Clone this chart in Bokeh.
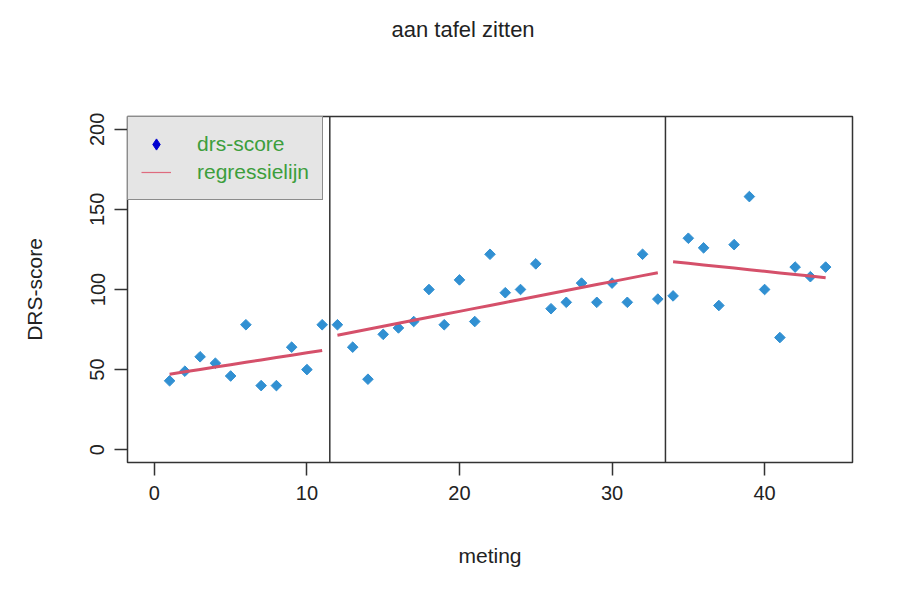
import numpy as np
from bokeh.plotting import figure
from bokeh.models import Range1d, FixedTicker, Span, Legend, LegendItem, Title
from bokeh.embed import file_html
from bokeh.resources import INLINE

# ---- data ----
meting = list(range(1, 45))
drs_score = [43, 49, 58, 54, 46, 78, 40, 40, 64, 50, 78,
             78, 64, 44, 72, 76, 80, 100, 78, 106, 80, 122, 98, 100, 116, 88, 92,
             104, 92, 104, 92, 122, 94,
             96, 132, 126, 90, 128, 158, 100, 70, 114, 108, 114]
phase_starts = [1, 12, 34]
phase_ends = [11, 33, 44]
phase_breaks = [11.5, 33.5]
x_ticks = [0, 10, 20, 30, 40]
y_ticks = [0, 50, 100, 150, 200]
x_limits = [0, 44]
y_limits = [0, 200]
title_text = "aan tafel zitten"
x_label = "meting"
y_label = "DRS-score"
legend_labels = ["drs-score", "regressielijn"]

FONT = "Liberation Sans"
POINT_COLOR = "#3190D2"
LINE_COLOR = "#D5506A"
TEXT_COLOR = "#222222"
FRAME_COLOR = "#333333"

# R-style 4% axis extension
def ext(lim):
    d = (lim[1] - lim[0]) * 0.04
    return Range1d(lim[0] - d, lim[1] + d)

p = figure(width=891, height=580, x_range=ext(x_limits), y_range=ext(y_limits),
           output_backend="svg", toolbar_location=None,
           min_border_left=127, min_border_right=39,
           min_border_top=116, min_border_bottom=118,
           background_fill_color="white", border_fill_color="white")
p.grid.visible = False
p.outline_line_color = FRAME_COLOR
p.outline_line_width = 1.5
p.outline_line_alpha = 1.0
p.title.visible = False

# invisible spacer panel next to the frame, then the title further out
p.add_layout(Title(text=".", text_font_size="1px", standoff=70,
                   text_color="white", align="right"), "above")
p.add_layout(Title(text=title_text, align="left", vertical_align="top",
                   offset=264, standoff=0, text_font=FONT,
                   text_font_style="normal", text_font_size="22px",
                   text_color=TEXT_COLOR), "above")

# axes
for ax, ticks in ((p.xaxis, x_ticks), (p.yaxis, y_ticks)):
    ax.ticker = FixedTicker(ticks=ticks, minor_ticks=[])
    ax.axis_line_color = None
    ax.major_tick_out = 13
    ax.major_tick_in = 0
    ax.major_tick_line_color = FRAME_COLOR
    ax.major_tick_line_width = 1.5
    ax.minor_tick_line_color = None
    ax.major_label_text_font = FONT
    ax.major_label_text_font_size = "20px"
    ax.major_label_text_color = TEXT_COLOR
    ax.axis_label_text_font = FONT
    ax.axis_label_text_font_size = "21px"
    ax.axis_label_text_font_style = "normal"
    ax.axis_label_text_color = TEXT_COLOR

p.xaxis.axis_label = x_label
p.yaxis.axis_label = y_label
p.xaxis.major_label_standoff = 10
p.yaxis.major_label_standoff = 10
p.yaxis.major_label_orientation = "vertical"
p.xaxis.axis_label_standoff = 41
p.yaxis.axis_label_standoff = 42

# phase separators
for b in phase_breaks:
    p.add_layout(Span(location=b, dimension="height", line_color=FRAME_COLOR,
                      line_width=1.5))

# points
p.scatter(meting, drs_score, marker="square", angle=np.pi / 4, size=7.5,
          fill_color=POINT_COLOR, line_color=POINT_COLOR)

# regression line per phase
x_arr = np.array(meting, dtype=float)
y_arr = np.array(drs_score, dtype=float)
for s, e in zip(phase_starts, phase_ends):
    m = (x_arr >= s) & (x_arr <= e)
    k, c = np.polyfit(x_arr[m], y_arr[m], 1)
    p.line(x_arr[m], k * x_arr[m] + c, line_color=LINE_COLOR, line_width=3)

# legend proxies (placed outside the visible range; only their style is shown)
leg_pt = p.scatter([-100], [-100], marker="diamond", size=10,
                   fill_color="#0000D0", line_color="#0000D0")
leg_ln = p.line([-100, -99], [-100, -100], line_color="#DF6B7E", line_width=1.2)
legend = Legend(items=[LegendItem(label=legend_labels[0], renderers=[leg_pt]),
                       LegendItem(label=legend_labels[1], renderers=[leg_ln])],
                location="top_left")
legend.margin = 0
legend.padding = 13
legend.spacing = 0
legend.glyph_width = 30
legend.glyph_height = 28
legend.label_standoff = 26
legend.label_text_font = FONT
legend.label_text_font_size = "21px"
legend.label_text_color = "#3C9E3C"
legend.background_fill_color = "#E5E5E5"
legend.background_fill_alpha = 1.0
legend.border_line_color = FRAME_COLOR
legend.border_line_width = 1.5
p.add_layout(legend)

open("out.html", "w").write(file_html(p, INLINE))
